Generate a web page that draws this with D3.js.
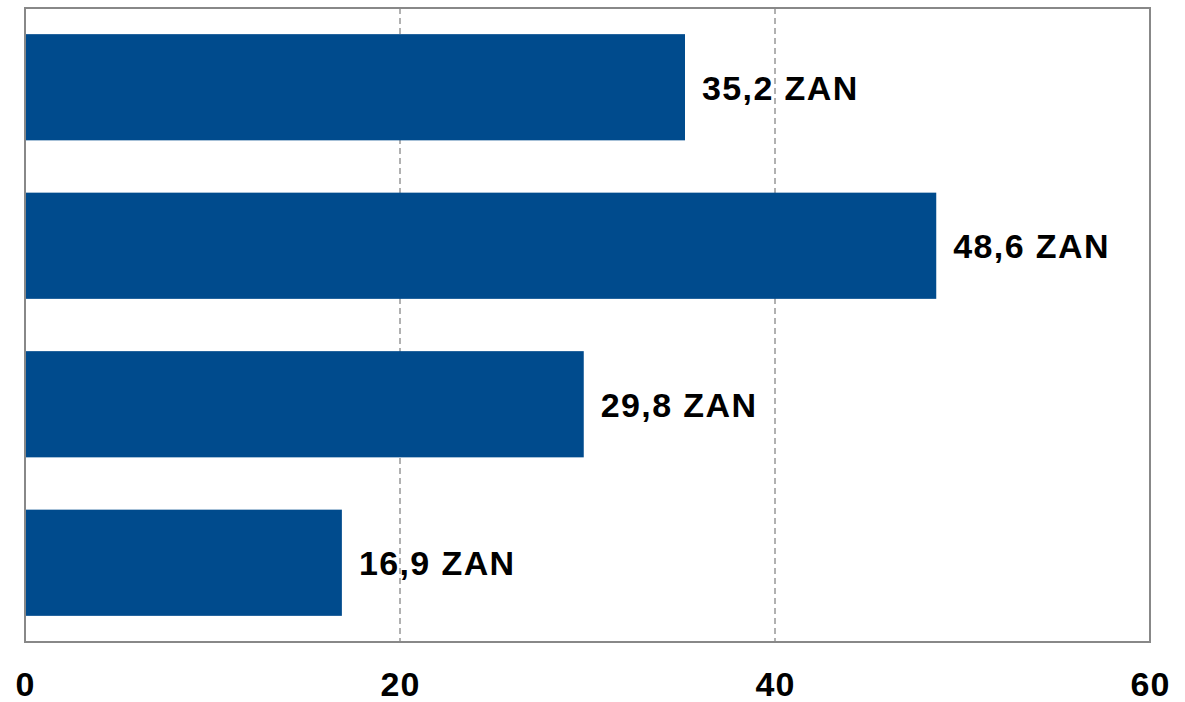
<!DOCTYPE html>
<html>
<head>
<meta charset="utf-8">
<script src="https://cdn.jsdelivr.net/npm/d3@7"></script>
<style>
  body { margin: 0; background: #fff; }
  text { font-family: "Liberation Sans", Arial, sans-serif; font-weight: bold; }
</style>
</head>
<body>
<svg id="chart" width="1185" height="702"></svg>
<script>
var categories = ["1", "2", "3", "4"];
var values = [35.2, 48.6, 29.8, 16.9];
var valueLabels = ["35,2 ZAN", "48,6 ZAN", "29,8 ZAN", "16,9 ZAN"];
var ticks = [0, 20, 40, 60];

var svg = d3.select("#chart"),
    margin = {top: 8, right: 35, bottom: 60, left: 25},
    width = +svg.attr("width") - margin.left - margin.right,
    height = +svg.attr("height") - margin.top - margin.bottom,
    g = svg.append("g").attr("transform", "translate(" + margin.left + "," + margin.top + ")");

var x = d3.scaleLinear().domain([0, 60]).range([0, width]);
var y = d3.scaleBand().domain(categories).range([0, height]).paddingInner(0.33).paddingOuter(0.165);

// dashed grid lines
g.selectAll(".grid")
    .data(ticks.slice(1, -1))
    .enter().append("line")
    .attr("x1", function (d) { return x(d); })
    .attr("x2", function (d) { return x(d); })
    .attr("y1", 0)
    .attr("y2", height)
    .attr("stroke", "#888")
    .attr("stroke-width", 1.3)
    .attr("stroke-dasharray", "6,4");

g.selectAll(".bar")
    .data(values)
    .enter().append("rect")
    .attr("x", 0)
    .attr("y", function (d, i) { return y(categories[i]); })
    .attr("width", function (d) { return x(d); })
    .attr("height", y.bandwidth())
    .attr("fill", "#004b8d");

g.selectAll(".lbl")
    .data(values)
    .enter().append("text")
    .attr("x", function (d) { return x(d) + 17; })
    .attr("y", function (d, i) { return y(categories[i]) + y.bandwidth() / 2; })
    .attr("dy", "0.37em")
    .attr("font-size", "34px")
    .attr("letter-spacing", "1.4px")
    .attr("fill", "#000")
    .text(function (d, i) { return valueLabels[i]; });

// frame
g.append("rect")
    .attr("x", 0).attr("y", 0)
    .attr("width", width).attr("height", height)
    .attr("fill", "none")
    .attr("stroke", "#888")
    .attr("stroke-width", 2);

var xAxis = d3.axisBottom(x).tickValues(ticks).tickSize(0).tickPadding(30);
var ax = g.append("g").attr("transform", "translate(0," + height + ")").call(xAxis);
ax.select(".domain").remove();
ax.selectAll("text")
    .attr("font-size", "34px")
    .attr("fill", "#000")
    .attr("letter-spacing", "1px")
    .style("font-family", "'Liberation Sans', Arial, sans-serif")
    .style("font-weight", "bold");
</script>
</body>
</html>
